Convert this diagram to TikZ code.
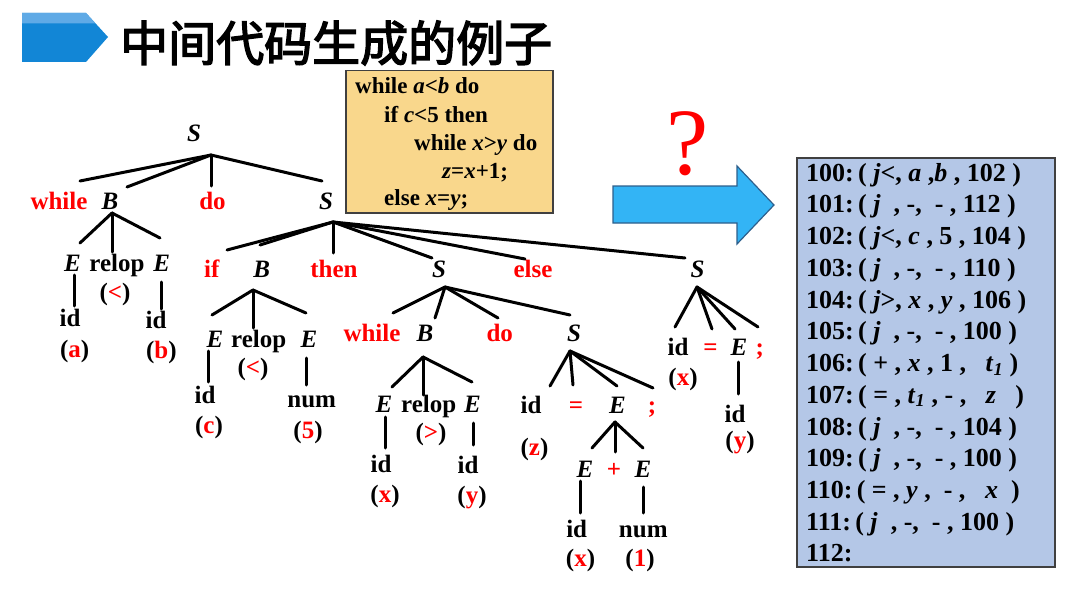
\documentclass[tikz,border=0pt]{standalone}
\usepackage{fontspec}
\setmainfont{Liberation Serif}
\newfontfamily\cjk[FakeBold=3]{Noto Sans CJK SC}
\definecolor{tred}{RGB}{255,0,0}
\definecolor{bannerblue}{RGB}{18,134,214}
\definecolor{bannerlight}{RGB}{95,170,230}
\definecolor{arrowblue}{RGB}{51,180,245}
\definecolor{arrowedge}{RGB}{45,95,140}
\definecolor{codefill}{RGB}{249,215,140}
\definecolor{quadfill}{RGB}{180,199,231}
\definecolor{boxedge}{RGB}{64,64,64}
\newcommand\pl[1]{(\textcolor{tred}{#1})}
\newcommand\ti[1]{\textit{#1}}
\begin{document}
\begin{tikzpicture}[x=1pt,y=-1pt,
  t/.style={anchor=base,inner sep=0pt,font=\fontsize{25}{30}\selectfont\bfseries},
  k/.style={t,text=tred},
  edge/.style={line width=3pt,line cap=round},
  codeline/.style={anchor=base west,inner sep=0pt,font=\fontsize{23}{28}\selectfont\bfseries},
  quad/.style={anchor=base west,inner sep=0pt,font=\fontsize{26}{31}\selectfont\bfseries},
]
\useasboundingbox (0,0) rectangle (1080,594);

% ---- title banner ----
\fill[bannerblue] (22,13) -- (86,13) -- (108,37) -- (86,62) -- (22,62) -- cycle;
\fill[bannerlight] (22,13) -- (86,13) -- (95.6,23.5) -- (22,23.5) -- cycle;
\node[anchor=west,inner sep=0pt] (title) at (120,43) {\cjk\fontsize{48}{56}\selectfont 中间代码生成的例子};

% ---- code box ----
\node[draw=boxedge,line width=1.5pt,fill=codefill,anchor=north west,minimum width=207pt,minimum height=142pt,inner sep=0pt] (code) at (345,70) {};
\node[codeline] (c1) at (355,94) {while \ti{a}<\ti{b} do};
\node[codeline] (c2) at (384,122) {if \ti{c}<5 then};
\node[codeline] (c3) at (414,150) {while \ti{x}>\ti{y} do};
\node[codeline] (c4) at (442,178) {\ti{z}=\ti{x}+1;};
\node[codeline] (c5) at (384,205) {else \ti{x}=\ti{y};};

% ---- question mark and arrow ----
\node[inner sep=0pt,text=tred,font=\fontsize{95}{100}\selectfont] (qm) at (688,144) {?};
\draw[arrowedge,line width=1.2pt,fill=arrowblue] (613,186) -- (737,186) -- (737,166) -- (774,205) -- (737,244) -- (737,223) -- (613,223) -- cycle;

% ---- quadruple box ----
\node[draw=boxedge,line width=1.5pt,fill=quadfill,anchor=north west,minimum width=258pt,minimum height=409pt,inner sep=0pt] (quads) at (796,157) {};
\node[quad] (q0) at (806,181) {100:\,( \ti{j}<, \ti{a} ,\ti{b} , 102 )};
\node[quad] (q1) at (806,212.75) {101:\,( \ti{j} \ , -, \ - , 112 )};
\node[quad] (q2) at (806,244.5) {102:\,( \ti{j}<, \ti{c} , 5 , 104 )};
\node[quad] (q3) at (806,276.25) {103:\,( \ti{j} \ , -, \ - , 110 )};
\node[quad] (q4) at (806,308) {104:\,( \ti{j}>, \ti{x} , \ti{y} , 106 )};
\node[quad] (q5) at (806,339.75) {105:\,( \ti{j} \ , -, \ - , 100 )};
\node[quad] (q6) at (806,371.5) {106:\,( + , \ti{x} , 1 , \ \ \ti{t}\textsubscript{\ti{1}} )};
\node[quad] (q7) at (806,403.25) {107:\,( = , \ti{t}\textsubscript{\ti{1}} , - , \ \ \ti{z} \ \ )};
\node[quad] (q8) at (806,435) {108:\,( \ti{j} \ , -, \ - , 104 )};
\node[quad] (q9) at (806,466.75) {109:\,( \ti{j} \ , -, \ - , 100 )};
\node[quad] (q10) at (806,498.5) {110:\,( = , \ti{y} , \ - , \ \ \ti{x} \ )};
\node[quad] (q11) at (806,530.25) {111:\,( \ti{j} \ , -, \ - , 100 )};
\node[quad] (q12) at (806,561) {112:};

% ---- parse tree nodes ----
\node[t] (S0) at (194,142) {\ti{S}};
\node[k] (w1) at (59,209) {while};
\node[t] (B1) at (110,209) {\ti{B}};
\node[k] (do1) at (212.5,209) {do};
\node[t] (S1) at (326,209) {\ti{S}};
\node[t] (E1) at (72.5,271) {\ti{E}};
\node[t] (r1) at (117,271) {relop};
\node[t] (E2) at (161.7,271) {\ti{E}};
\node[t] (lt1) at (115,300) {\pl{<}};
\node[t] (id1) at (70,326) {id};
\node[t] (a1) at (74.7,357) {\pl{a}};
\node[t] (id2) at (156,328) {id};
\node[t] (b1) at (161.3,358) {\pl{b}};

\node[k] (if2) at (211.7,277) {if};
\node[t] (B2) at (261.7,277) {\ti{B}};
\node[k] (then2) at (334,277) {then};
\node[t] (S2) at (439,277) {\ti{S}};
\node[k] (else2) at (533,277) {else};
\node[t] (S3) at (697.5,277) {\ti{S}};

\node[t] (E3) at (215,347) {\ti{E}};
\node[t] (r2) at (258.7,347) {relop};
\node[t] (E4) at (309,347) {\ti{E}};
\node[t] (lt2) at (253,375) {\pl{<}};
\node[t] (id3) at (205,403) {id};
\node[t] (c3n) at (209,433) {\pl{c}};
\node[t] (num3) at (311.7,407) {num};
\node[t] (five) at (308,438) {\pl{5}};

\node[k] (w2) at (372,341) {while};
\node[t] (B3) at (425,341) {\ti{B}};
\node[k] (do2) at (499.7,341) {do};
\node[t] (S4) at (574,341) {\ti{S}};

\node[t] (E5) at (384,412) {\ti{E}};
\node[t] (r3) at (428.7,412) {relop};
\node[t] (E6) at (472.5,412) {\ti{E}};
\node[t] (gt3) at (431,440) {\pl{>}};
\node[t] (id5) at (381,472) {id};
\node[t] (x5) at (385,502) {\pl{x}};
\node[t] (id6) at (468,473) {id};
\node[t] (y6) at (472,503) {\pl{y}};

\node[t] (id7) at (531,413) {id};
\node[k] (eq7) at (576,413) {=};
\node[t] (E7) at (617.5,413) {\ti{E}};
\node[k] (sc7) at (652,413) {;};
\node[t] (z7) at (534.5,455) {\pl{z}};

\node[t] (E8) at (585,477) {\ti{E}};
\node[k] (plus8) at (614,477) {+};
\node[t] (E9) at (643,477) {\ti{E}};
\node[t] (id8) at (576.7,537) {id};
\node[t] (x8) at (580.5,566) {\pl{x}};
\node[t] (num9) at (643.3,537) {num};
\node[t] (one9) at (640,566) {\pl{1}};

\node[t] (id10) at (678,355) {id};
\node[k] (eq10) at (710.5,355) {=};
\node[t] (E10) at (739,355) {\ti{E}};
\node[k] (sc10) at (759.7,355) {;};
\node[t] (x10) at (683,385) {\pl{x}};
\node[t] (id11) at (735,422) {id};
\node[t] (y11) at (740,448) {\pl{y}};

% ---- branch points ----
\coordinate (S0b) at ([shift={(17,13)}]S0.base);
\coordinate (B1b) at ([shift={(2,4)}]B1.base);
\coordinate (S1b) at ([shift={(7,13)}]S1.base);
\coordinate (B2b) at ([shift={(-8.7,13)}]B2.base);
\coordinate (S2b) at ([shift={(6,10)}]S2.base);
\coordinate (B3b) at ([shift={(-2,16)}]B3.base);
\coordinate (S4b) at ([shift={(-4,10)}]S4.base);
\coordinate (E7b) at ([shift={(-2.5,9)}]E7.base);
\coordinate (S3b) at ([shift={(-0.5,10)}]S3.base);

% ---- edges ----
\draw[edge] (S0b) -- ([shift={(21,-28)}]w1.base);
\draw[edge] (S0b) -- ([shift={(17,-22)}]B1.base);
\draw[edge] (S0b) -- ([shift={(-1.5,-23)}]do1.base);
\draw[edge] (S0b) -- ([shift={(-4,-28)}]S1.base);

\draw[edge] (B1b) -- ([shift={(7.5,-28)}]E1.base);
\draw[edge] (B1b) -- ([shift={(-5,-19)}]r1.base);
\draw[edge] (B1b) -- ([shift={(-1.7,-33)}]E2.base);
\draw[edge] ([shift={(1.5,4)}]E1.base) -- ([shift={(4,-20)}]id1.base);
\draw[edge] ([shift={(0,11)}]E2.base) -- ([shift={(5.7,-19)}]id2.base);

\draw[edge] (S1b) -- ([shift={(15.3,-27)}]if2.base);
\draw[edge] (S1b) -- ([shift={(-1.7,-32)}]B2.base);
\draw[edge] (S1b) -- ([shift={(-1,-24)}]then2.base);
\draw[edge] (S1b) -- ([shift={(-7,-19)}]S2.base);
\draw[edge] (S1b) -- ([shift={(-8,-18)}]else2.base);
\draw[edge] (S1b) -- ([shift={(-12.5,-19)}]S3.base);

\draw[edge] (B2b) -- ([shift={(-3,-32)}]E3.base);
\draw[edge] (B2b) -- ([shift={(-5.7,-19)}]r2.base);
\draw[edge] (B2b) -- ([shift={(-3,-34)}]E4.base);
\draw[edge] ([shift={(-6.7,4)}]E3.base) -- ([shift={(3.3,-21)}]id3.base);
\draw[edge] ([shift={(-2.3,11)}]E4.base) -- ([shift={(-5,-22)}]num3.base);

\draw[edge] (S2b) -- ([shift={(21,-28)}]w2.base);
\draw[edge] (S2b) -- ([shift={(10,-23)}]B3.base);
\draw[edge] (S2b) -- ([shift={(-1.7,-23)}]do2.base);
\draw[edge] (S2b) -- ([shift={(-4,-26)}]S4.base);

\draw[edge] (B3b) -- ([shift={(8,-25)}]E5.base);
\draw[edge] (B3b) -- ([shift={(-5.7,-17)}]r3.base);
\draw[edge] (B3b) -- ([shift={(-0.5,-30)}]E6.base);
\draw[edge] ([shift={(1,5)}]E5.base) -- ([shift={(4,-24)}]id5.base);
\draw[edge] ([shift={(0.5,11)}]E6.base) -- ([shift={(5,-28)}]id6.base);

\draw[edge] (S4b) -- ([shift={(19,-27)}]id7.base);
\draw[edge] (S4b) -- ([shift={(-3,-28)}]eq7.base);
\draw[edge] (S4b) -- ([shift={(-0.5,-27)}]E7.base);
\draw[edge] (S4b) -- ([shift={(1,-25)}]sc7.base);

\draw[edge] (E7b) -- ([shift={(7,-29)}]E8.base);
\draw[edge] (E7b) -- ([shift={(1,-25)}]plus8.base);
\draw[edge] (E7b) -- ([shift={(0,-29)}]E9.base);
\draw[edge] ([shift={(-5,4)}]E8.base) -- ([shift={(3.3,-24)}]id8.base);
\draw[edge] ([shift={(0.3,10)}]E9.base) -- ([shift={(0,-24)}]num9.base);

\draw[edge] (S3b) -- ([shift={(-3,-28)}]id10.base);
\draw[edge] (S3b) -- ([shift={(1.5,-26)}]eq10.base);
\draw[edge] (S3b) -- ([shift={(-4,-26)}]E10.base);
\draw[edge] (S3b) -- ([shift={(-1.7,-28)}]sc10.base);
\draw[edge] ([shift={(-0.7,7)}]E10.base) -- ([shift={(3.3,-28)}]id11.base);
\end{tikzpicture}
\end{document}
